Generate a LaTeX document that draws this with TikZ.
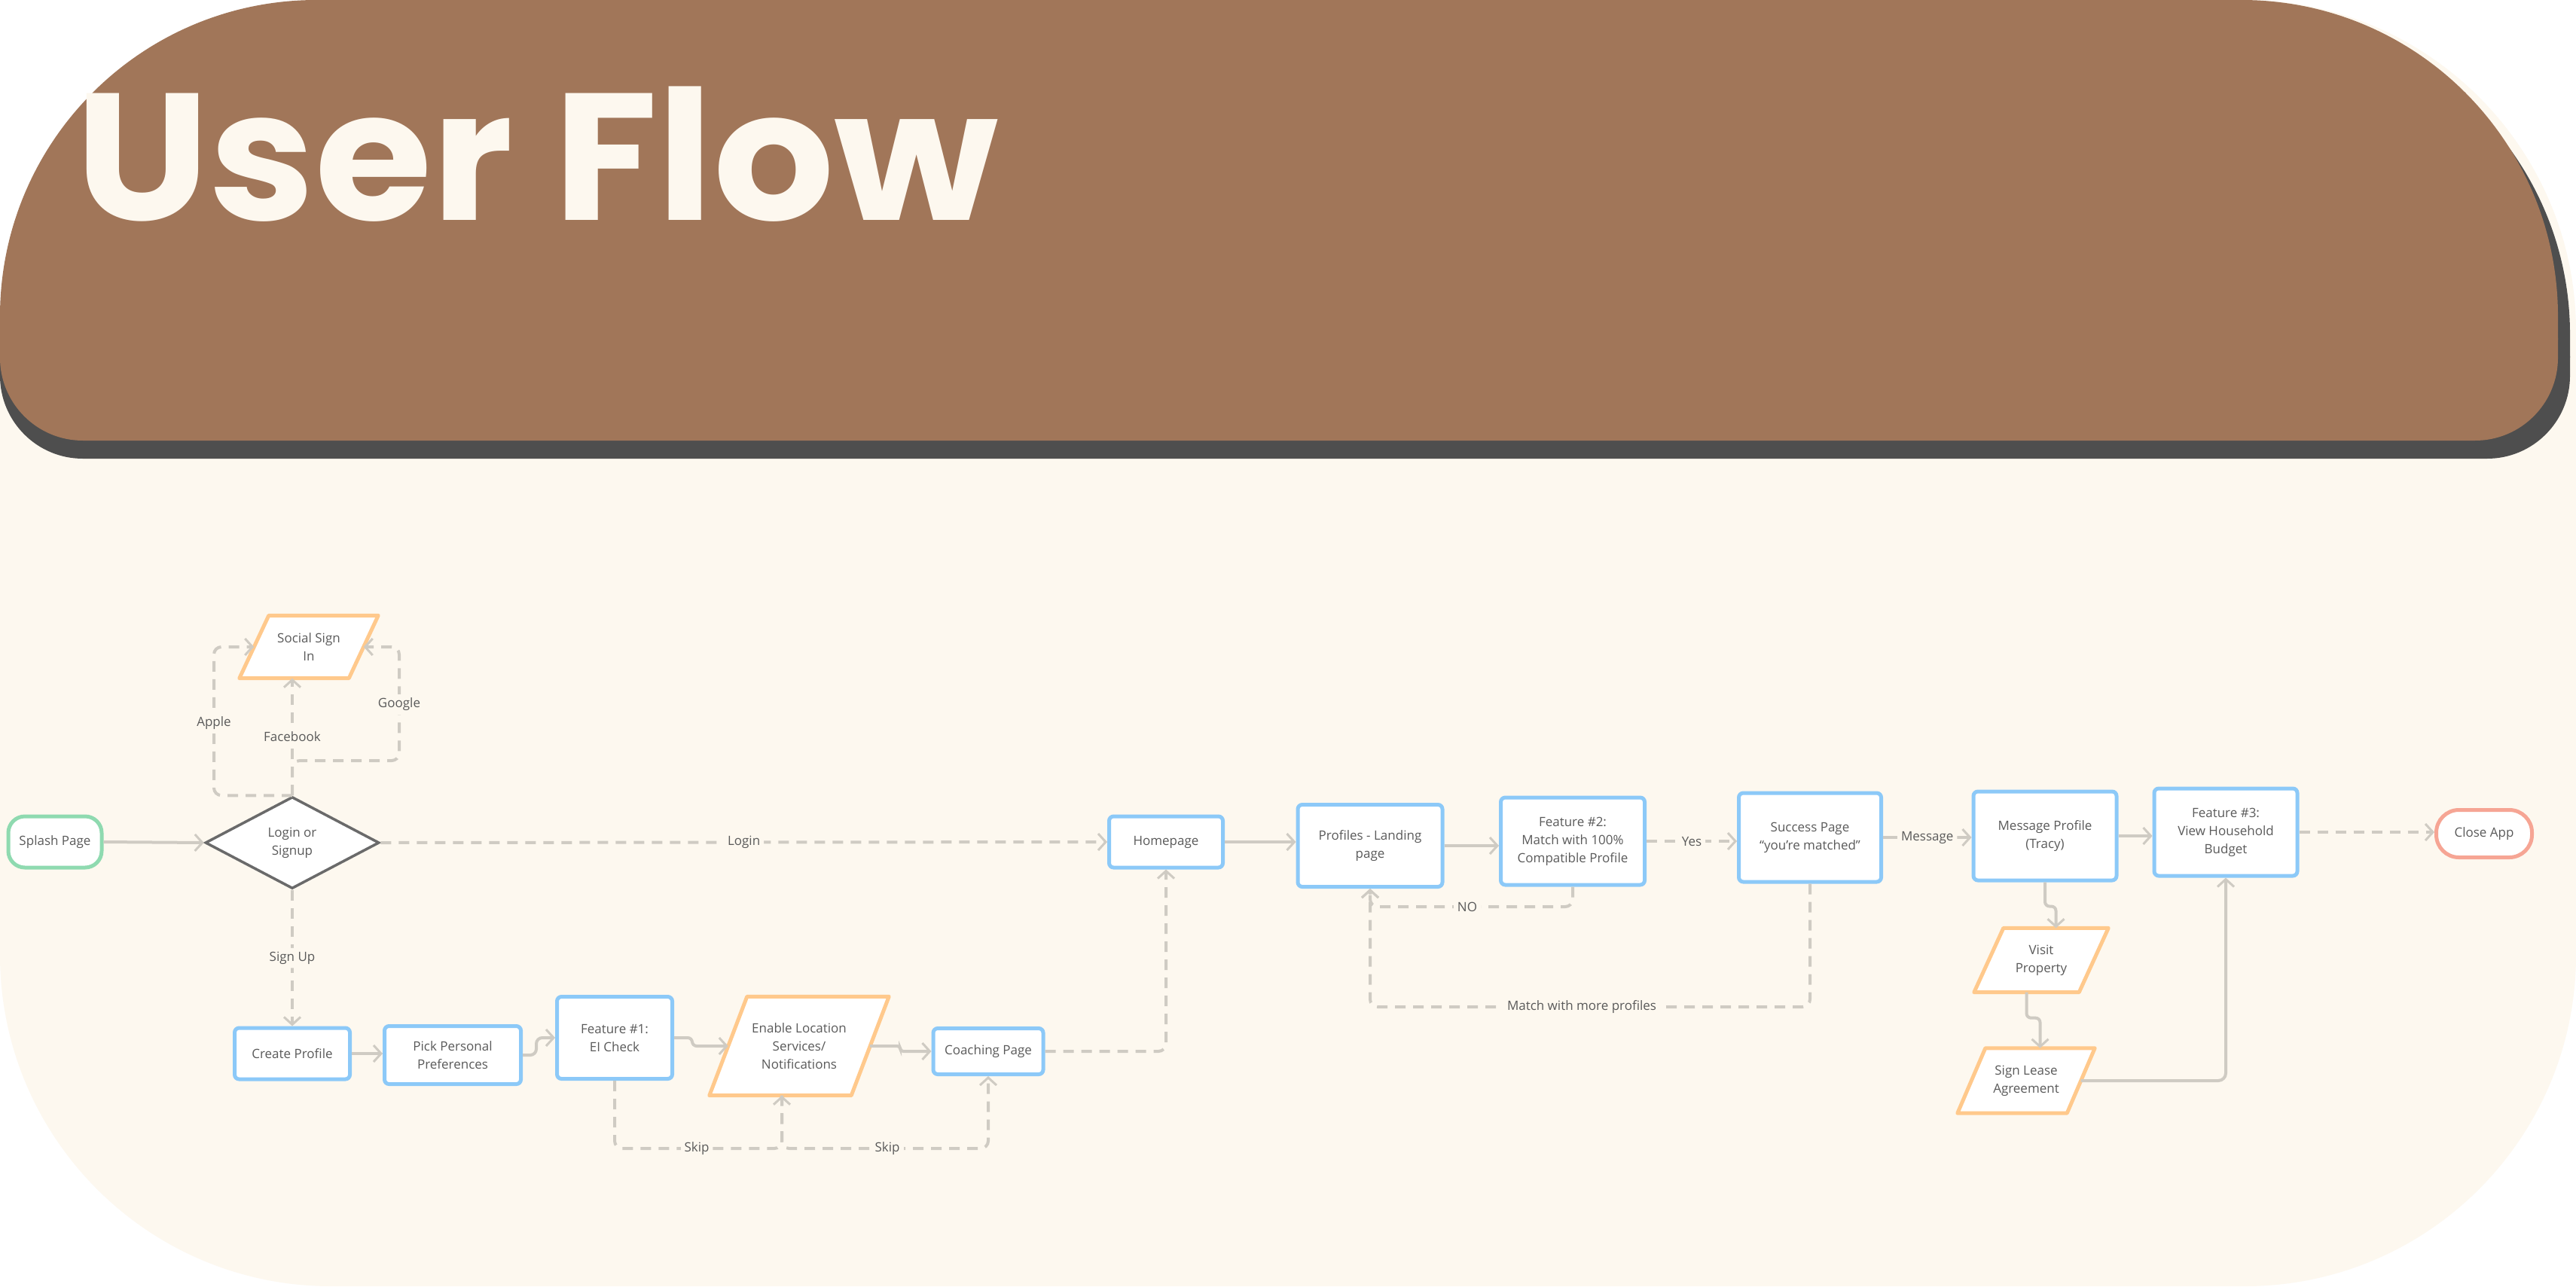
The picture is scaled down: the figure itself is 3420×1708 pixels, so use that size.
\documentclass[tikz,border=0pt]{standalone}
\usepackage{fontspec}
\setmainfont{Open Sans}
\newfontfamily\titlefont{Poppins}
\usetikzlibrary{arrows.meta,shapes.geometric,calc}
\definecolor{cream}{HTML}{FDF8EF}
\definecolor{hbrown}{HTML}{A17659}
\definecolor{hshadow}{HTML}{4E4E4E}
\definecolor{boxblue}{HTML}{8CC9F8}
\definecolor{boxorange}{HTML}{FFC98C}
\definecolor{boxgreen}{HTML}{8FDAB0}
\definecolor{boxred}{HTML}{F6A594}
\definecolor{linegrey}{HTML}{CFCBC3}
\definecolor{txt}{HTML}{5A5A5A}
\definecolor{diagrey}{HTML}{6A6A6A}
\pgfdeclarelayer{back}
\pgfdeclarelayer{shapes}
\pgfsetlayers{back,shapes,main}
\newcommand{\paragram}[2]{%
  \begin{pgfonlayer}{shapes}
  \draw[paraline] ([xshift=-#2/2]#1.south west) -- ([xshift=-#2/2]#1.south east) -- ([xshift=#2/2]#1.north east) -- ([xshift=#2/2]#1.north west) -- cycle;
  \end{pgfonlayer}}
\newcommand{\headershape}[4]{% colour, right x, top y, bottom y
  \begin{scope}\clip (-10,-10) rectangle (3500,{#3+450});
    \fill[#1, rounded corners=420pt] (0,#3) rectangle (#2,{#3+1000});
  \end{scope}
  \begin{scope}\clip (-10,{#3+449.5}) rectangle (3500,{#4+20});
    \fill[#1, rounded corners=110pt] (0,{#3-500}) rectangle (#2,#4);
  \end{scope}}
\tikzset{
  lbl/.style={font=\fontsize{17}{24}\selectfont, text=txt, align=center, inner sep=0pt},
  bbox/.style={lbl, draw=boxblue, line width=5pt, fill=white, rounded corners=6pt},
  pnode/.style={lbl},
  paraline/.style={draw=boxorange, line width=5pt, fill=white, line join=round},
  conn/.style={draw=linegrey, line width=4pt, -{Straight Barb[length=10pt,width=22pt,line width=3pt]}, rounded corners=10pt},
  dconn/.style={conn, dash pattern=on 14pt off 10pt},
  clabel/.style={lbl, fill=cream, inner sep=5pt},
}
\begin{document}
\begin{tikzpicture}[x=1pt,y=-1pt]
\useasboundingbox (0,0) rectangle (3420,1708);
\begin{pgfonlayer}{back}
\fill[white] (0,0) rectangle (3420,1708);
\fill[cream, rounded corners=440pt] (0,0) rectangle (3420,1708);
\headershape{hshadow}{3412}{24}{609}
\headershape{hbrown}{3396}{0}{585}
\end{pgfonlayer}

\node[anchor=base west, inner sep=0pt, text=cream, xscale=1.05, font=\titlefont\bfseries\fontsize{240}{240}\selectfont] (title) at (100,292) {User Flow};

% nodes
\node[lbl, draw=boxgreen, line width=5pt, fill=white, rounded corners=22pt, minimum width=124, minimum height=68] (splash) at (73,1118) {Splash Page};
\node[lbl, diamond, draw=diagrey, line width=3.5pt, fill=white, minimum width=231, minimum height=122] (dia) at (388,1119) {Login or\\Signup};
\node[pnode, minimum width=145, minimum height=83] (social) at (410,859) {Social Sign\\In};
\paragram{social}{39}
\node[bbox, minimum width=153, minimum height=68] (create) at (388,1399) {Create Profile};
\node[bbox, minimum width=181, minimum height=77] (pick) at (601,1401) {Pick Personal\\Preferences};
\node[bbox, minimum width=153, minimum height=109] (f1) at (816,1378) {Feature \#1:\\EI Check};
\node[pnode, minimum width=188, minimum height=131] (enable) at (1061,1389) {Enable Location\\Services/\\Notifications};
\paragram{enable}{50}
\node[bbox, minimum width=146, minimum height=61] (coach) at (1312,1396) {Coaching Page};
\node[bbox, minimum width=151, minimum height=68] (home) at (1548,1118) {Homepage};
\node[bbox, minimum width=192, minimum height=109] (profiles) at (1819,1123) {Profiles - Landing\\page};
\node[bbox, minimum width=191, minimum height=116] (feat2) at (2088,1117) {Feature \#2:\\Match with 100\%\\Compatible Profile};
\node[bbox, minimum width=189, minimum height=118] (success) at (2403,1112) {Success Page\\“you’re matched”};
\node[bbox, minimum width=190, minimum height=118] (msg) at (2715,1110) {Message Profile\\(Tracy)};
\node[bbox, minimum width=190, minimum height=116] (feat3) at (2955,1105) {Feature \#3:\\View Household\\Budget};
\node[lbl, draw=boxred, line width=5pt, fill=white, rounded corners=30pt, minimum width=127, minimum height=63] (close) at (3298,1107) {Close App};
\node[pnode, minimum width=139, minimum height=85] (visit) at (2710,1275) {Visit\\Property};
\paragram{visit}{39}
\node[pnode, minimum width=145, minimum height=86] (lease) at (2690,1435) {Sign Lease\\Agreement};
\paragram{lease}{37}

% helper coordinates
\coordinate (appleX) at (284,0);
\coordinate (gX) at (530,0);
\coordinate (gY) at (0,1010);
\coordinate (skipY) at (0,1525);
\coordinate (noY) at (0,1204);
\coordinate (mY) at (0,1337);

% connectors
\draw[conn] (splash.east) -- (dia.west);
\draw[dconn] (dia.east) -- node[clabel] (loginlbl) {Login} (home.west);
\draw[dconn] (dia.south) -- node[clabel] (signuplbl) {Sign Up} (create.north);
\draw[dconn] (dia.north) -- node[clabel] (fblbl) {Facebook} (dia.north |- social.south);
\draw[dconn] (dia.north) -| (appleX |- social.west) -- (social.west);
\draw[dconn] (dia.north) -- (dia.north |- gY) -| (gX |- social.east) -- (social.east);
\node[clabel] (applelbl) at (284,960) {Apple};
\node[clabel] (googlelbl) at (530,935) {Google};

\draw[conn] (create.east) -- (create.east -| pick.west);
\draw[conn, rounded corners=8pt] (pick.east) -- ++(18,0) |- (f1.west);
\draw[conn, rounded corners=6pt] (f1.east) -- ++(24,0) |- (enable.west);
\draw[conn, rounded corners=4pt] (enable.east) -- ++(40,0) |- (coach.west);
\draw[dconn] (coach.east) -| (home.south);
\draw[dconn] (f1.south) -- (f1.south |- skipY) -| ([xshift=-23]enable.south);
\draw[dconn] ([xshift=-23]enable.south) -- ([xshift=-23]enable.south |- skipY) -| (coach.south);
\node[clabel] (skip1) at (925,1525) {Skip};
\node[clabel] (skip2) at (1178,1525) {Skip};

\draw[conn] (home.east) -- (home.east -| profiles.west);
\draw[conn] (profiles.east) -- (profiles.east -| feat2.west);
\draw[dconn] (feat2.east) -- node[clabel] (yeslbl) {Yes} (feat2.east -| success.west);
\draw[dconn] (feat2.south) -- (feat2.south |- noY) -| (profiles.south);
\draw[dconn] (success.south) -- (success.south |- mY) -| (profiles.south);
\node[clabel] (nolbl) at (1948,1204) {NO};
\node[clabel] (matchlbl) at (2100,1337) {Match with more profiles};
\draw[conn] (success.east) -- node[clabel] (msglbl) {Message} (success.east -| msg.west);
\draw[conn] (msg.east) -- (msg.east -| feat3.west);
\draw[dconn] (feat3.east) -- (feat3.east -| close.west);
\draw[conn, rounded corners=6pt] (msg.south) -- ++(0,32) -| ([xshift=19.5]visit.north);
\draw[conn, rounded corners=6pt] ([xshift=-19.5]visit.south) -- ++(0,34) -| ([xshift=18.5]lease.north);
\draw[conn] (lease.east) -| (feat3.south);
\end{tikzpicture}
\end{document}
